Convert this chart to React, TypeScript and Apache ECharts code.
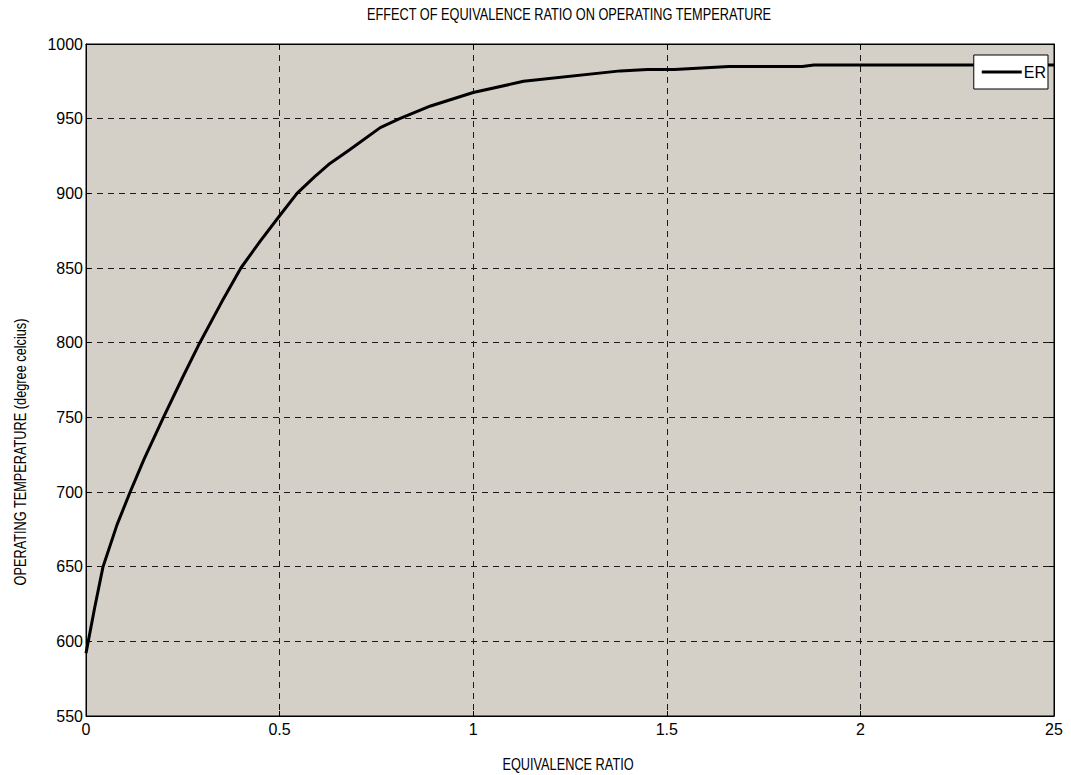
import React, { useEffect, useRef } from "react";
import * as echarts from "echarts";

const titleText = "EFFECT OF EQUIVALENCE RATIO ON OPERATING TEMPERATURE";
const xName = "EQUIVALENCE RATIO";
const yName = "OPERATING TEMPERATURE (degree celcius)";
const seriesName = "ER";

const erValues = [0, 0.022, 0.044, 0.08, 0.114, 0.15, 0.2, 0.25, 0.294, 0.35, 0.4, 0.45, 0.5, 0.545, 0.59, 0.63, 0.68, 0.76, 0.81, 0.89, 1.0, 1.13, 1.38, 1.45, 1.52, 1.66, 1.85, 1.88, 2.5];
const tempValues = [592, 622, 650, 678, 700, 722, 750, 777, 800, 827, 850, 868, 885, 900, 911, 920, 929, 944, 950, 958.5, 967.5, 975, 982, 983, 983, 985, 985, 986, 986];

const xTickLabels: Record<string, string> = { "0": "0", "0.5": "0.5", "1": "1", "1.5": "1.5", "2": "2", "2.5": "25" };

const FONT = '"Liberation Sans", Arial, Helvetica, sans-serif';

export default function App() {
  const ref = useRef<HTMLDivElement>(null);
  useEffect(() => {
    if (!ref.current) return;
    const chart = echarts.init(ref.current, undefined, { renderer: "svg" });
    const data = erValues.map((x, i) => [x, tempValues[i]]);
    const grid = { left: 86, top: 44, right: 17, bottom: 59 };
    const condensed = (text: string, x: number, y: number, rotation = 0) => ({
      type: "text",
      x,
      y,
      rotation,
      scaleX: 0.75,
      silent: true,
      style: {
        text,
        fill: "#000",
        font: `normal 17px ${FONT}`,
        align: "center",
        verticalAlign: "middle",
      },
    });
    chart.setOption({
      animation: false,
      backgroundColor: "#ffffff",
      graphic: [
        condensed(titleText, 569, 14),
        condensed(xName, 568, 764),
        condensed(yName, 20, 452, Math.PI / 2),
      ],
      legend: {
        right: 23,
        top: 55,
        orient: "vertical",
        backgroundColor: "#ffffff",
        borderColor: "#000",
        borderWidth: 1,
        borderRadius: 0,
        padding: [9, 2, 9, 8],
        itemWidth: 40,
        itemHeight: 14,
        itemGap: 4,
        textStyle: { fontFamily: FONT, fontSize: 16, color: "#000", padding: [0, 0, 0, -3] },
        data: [{ name: seriesName, icon: "path://M0,0 L40,0 L40,3 L0,3 Z" }],
      },
      grid: { ...grid, show: true, backgroundColor: "#d4d0c8", borderColor: "#000", borderWidth: 1 },
      xAxis: [
        {
          type: "value",
          min: 0,
          max: 2.5,
          interval: 0.5,
          axisLine: { show: true, onZero: false, lineStyle: { color: "#000", width: 1 } },
          axisTick: { show: true, inside: true, length: 5, lineStyle: { color: "#000" } },
          axisLabel: {
            fontFamily: FONT,
            fontSize: 16,
            color: "#000",
            margin: 5,
            formatter: (v: number) => xTickLabels[String(v)] ?? String(v),
          },
          splitLine: { show: true, lineStyle: { color: "#1a1a1a", type: [6, 5], width: 1 } },
        },
        {
          type: "value",
          position: "top",
          min: 0,
          max: 2.5,
          interval: 0.5,
          axisLine: { show: true, onZero: false, lineStyle: { color: "#000", width: 1 } },
          axisTick: { show: true, inside: true, length: 5, lineStyle: { color: "#000" } },
          axisLabel: { show: false },
          splitLine: { show: false },
        },
      ],
      yAxis: [
        {
          type: "value",
          min: 550,
          max: 1000,
          interval: 50,
          axisLine: { show: true, onZero: false, lineStyle: { color: "#000", width: 1 } },
          axisTick: { show: true, inside: true, length: 5, lineStyle: { color: "#000" } },
          axisLabel: { fontFamily: FONT, fontSize: 16, color: "#000", margin: 3, formatter: (v: number) => String(v) },
          splitLine: { show: true, lineStyle: { color: "#1a1a1a", type: [6, 5], width: 1 } },
        },
        {
          type: "value",
          position: "right",
          min: 550,
          max: 1000,
          interval: 50,
          axisLine: { show: true, onZero: false, lineStyle: { color: "#000", width: 1 } },
          axisTick: { show: true, inside: true, length: 5, lineStyle: { color: "#000" } },
          axisLabel: { show: false },
          splitLine: { show: false },
        },
      ],
      series: [
        {
          name: seriesName,
          type: "line",
          xAxisIndex: 0,
          yAxisIndex: 0,
          data,
          symbol: "none",
          smooth: false,
          lineStyle: { color: "#000", width: 3 },
          itemStyle: { color: "#000" },
          z: 3,
        },
      ],
    });
    return () => chart.dispose();
  }, []);
  return <div ref={ref} style={{ width: 1071, height: 775, position: "absolute", left: 0, top: 0 }} />;
}
